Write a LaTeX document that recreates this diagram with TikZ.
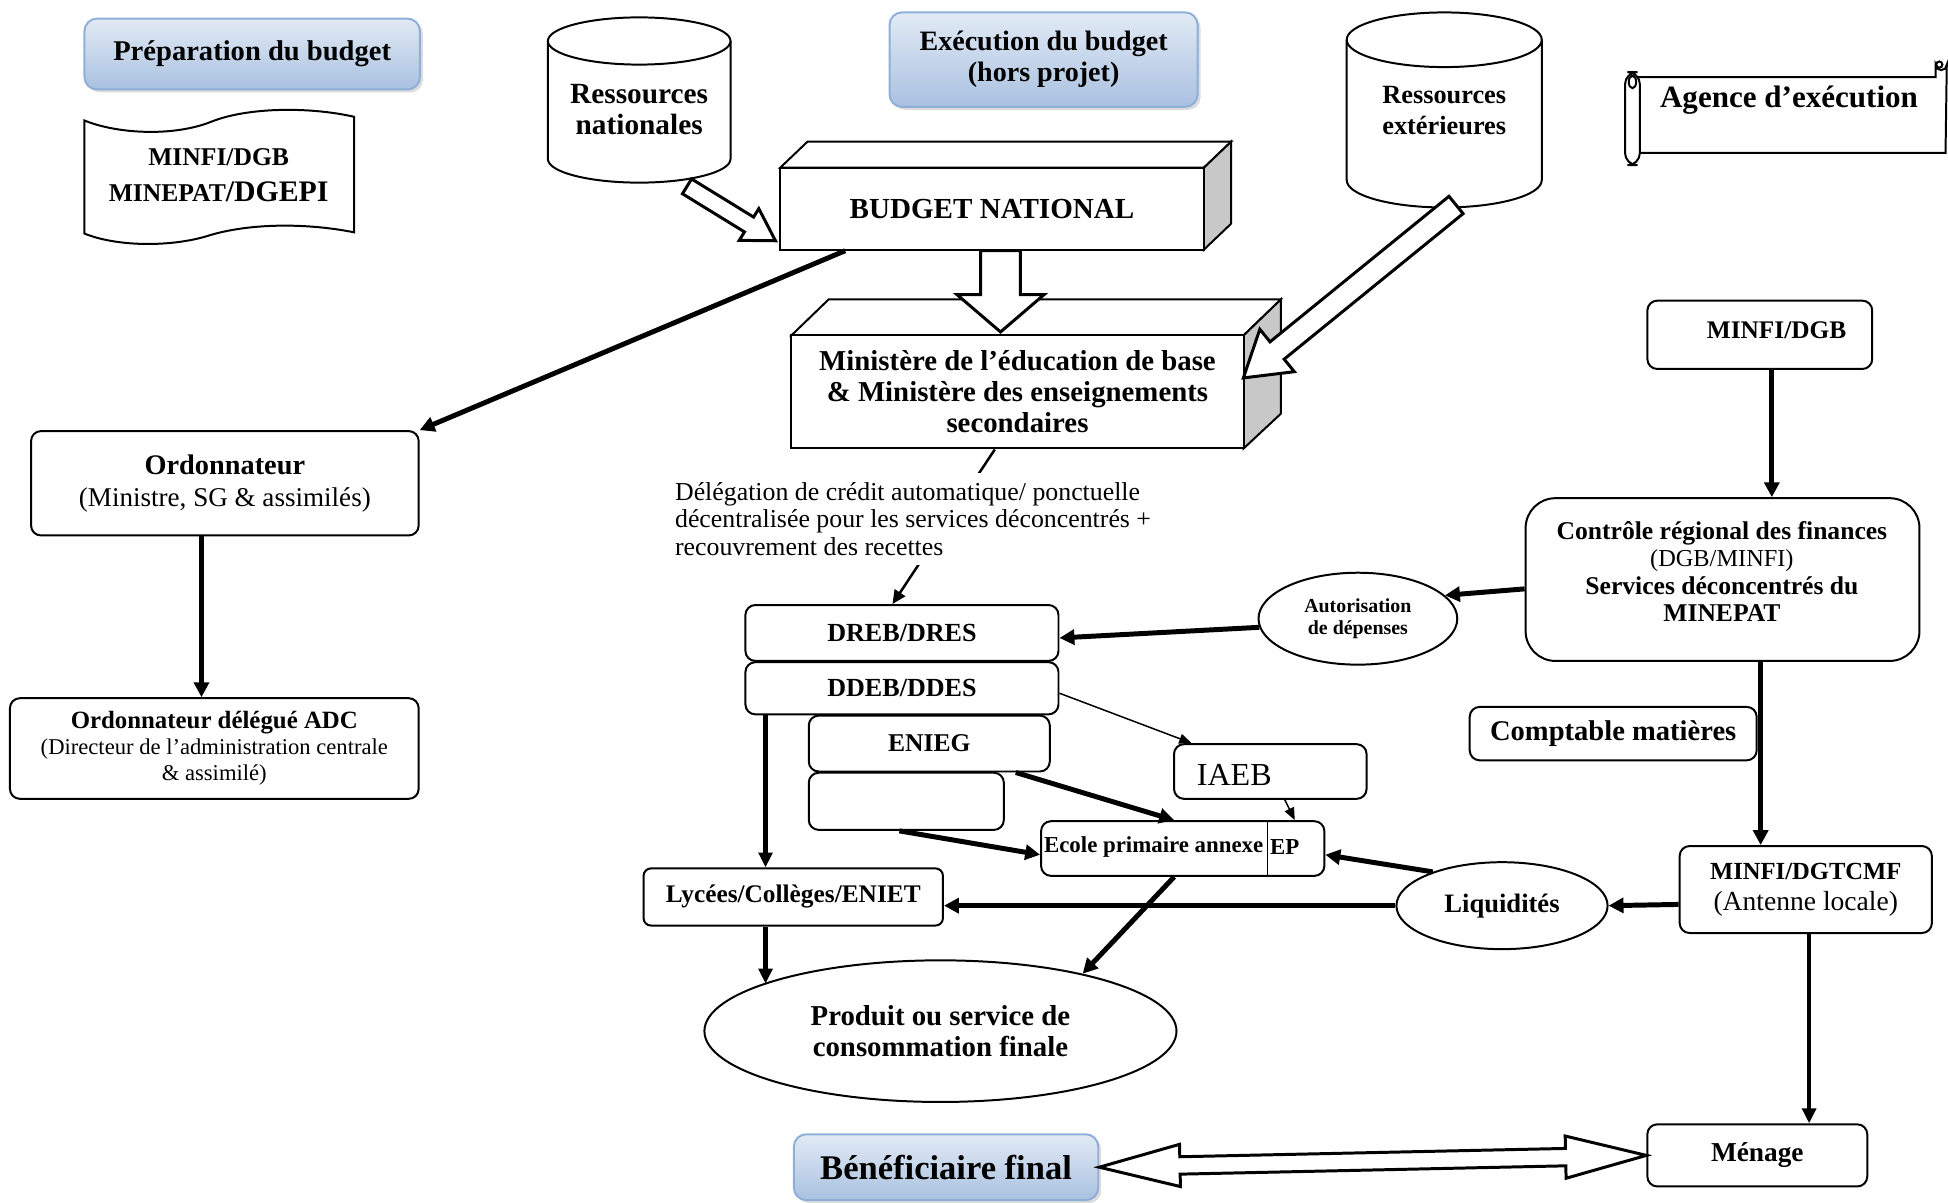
\documentclass[tikz,border=0pt]{standalone}
\usepackage{fontspec}
\setmainfont{Liberation Serif}
\usetikzlibrary{calc,shapes.geometric,arrows.meta,shadows}
\definecolor{bluetop}{HTML}{E2EAF5}
\definecolor{bluebot}{HTML}{A9C1E0}
\definecolor{blueedge}{HTML}{8FAFD8}
\definecolor{sidegray}{HTML}{C8C8C8}
\newcommand\fz[2]{\fontsize{#1pt}{#2pt}\selectfont}
\newcommand\mkbox[7]{%
  \pgfmathsetmacro\myW{(#4-#2)*0.5}%
  \pgfmathsetmacro\myH{(#5-#3)*0.5}%
  \node[#6, minimum width=\myW pt, minimum height=\myH pt] (#1) at ({(#2+#4)/2},{(#3+#5)/2}) {#7};}
\newcommand\mkell[7]{%
  \node[#6, minimum width=#4pt, minimum height=#5pt] (#1) at (#2,#3) {#7};}
\begin{document}
\begin{tikzpicture}[x=0.5pt,y=-0.5pt,
  box/.style={draw, line width=0.8pt, rounded corners=4pt, fill=white, inner sep=0pt, align=center},
  sq/.style={draw, line width=0.8pt, fill=white, inner sep=0pt, align=center},
  bluebox/.style={draw=blueedge, line width=0.8pt, rounded corners=5pt, top color=bluetop, bottom color=bluebot, inner sep=0pt, align=center, drop shadow={shadow xshift=1.2pt, shadow yshift=-1.2pt, fill=gray!55}},
  ell/.style={ellipse, draw, line width=0.8pt, fill=white, inner sep=0pt, align=center},
  shp/.style={draw, line width=0.8pt, fill=white},
  thk/.style={line width=2pt, -{Triangle[length=6pt,width=6pt]}},
  med/.style={line width=1.7pt, -{Triangle[length=6pt,width=5.5pt]}},
  thn/.style={line width=0.6pt, -{Triangle[length=5pt,width=4pt]}},
  blk/.style={draw, line width=1.2pt, fill=white, line join=miter}
]
\useasboundingbox (0,0) rectangle (1568,968);

% ---- top left
\mkbox{prep}{68}{15}{338}{72}{bluebox,font=\bfseries\fz{11.5}{13}}{Préparation du budget}
\draw[shp] (68,97) .. controls (95,108) and (140,110) .. (170,98) .. controls (200,86) and (250,86) .. (285,94)
  -- (285,187) .. controls (250,180) and (205,179) .. (170,189) .. controls (140,199) and (95,199) .. (68,188) -- cycle;
\node[align=center, inner sep=0pt, font=\bfseries\fz{10.3}{14.5}] (tp) at (176,141) {MINFI/DGB\\MINEPAT{\fz{12}{14}/DGEPI}};

% ---- cylinders
\draw[shp] (441,33) -- (441,128) arc[start angle=180, end angle=0, x radius=73.5, y radius=19] -- (588,33);
\draw[shp] (514.5,33) ellipse[x radius=73.5, y radius=19];
\node[align=center, inner sep=0pt, font=\bfseries\fz{11.8}{12.5}] (rn) at (514.5,88) {Ressources\\nationales};

\draw[shp] (1084,32) -- (1084,145) arc[start angle=180, end angle=0, x radius=78.5, y radius=22] -- (1241,32);
\draw[shp] (1162.5,32) ellipse[x radius=78.5, y radius=22];
\node[align=center, inner sep=0pt, font=\bfseries\fz{10.6}{12.5}] (re) at (1162.5,89) {Ressources\\extérieures};

\mkbox{exec}{716}{10}{964}{86}{bluebox,font=\bfseries\fz{11.3}{12.5}}{Exécution du budget\\(hors projet)}

% ---- scroll
\draw[shp] (1316,62) -- (1558,62) -- (1558,52) arc[start angle=180, end angle=0, radius=4.5] -- (1566,123) -- (1316,123);
\draw[line width=0.8pt] (1561,52) circle[radius=2.5];
\draw[shp, rounded corners=5pt] (1308,58) rectangle (1320,133);
\draw[line width=0.8pt] (1314,66) ellipse[x radius=3, y radius=5];
\node[inner sep=0pt, font=\bfseries\fz{12.5}{13}] (ag) at (1440,81) {Agence d’exécution};

% ---- 3D boxes
\draw[shp] (628,135) -- (650,114) -- (991,114) -- (969,135) -- cycle;
\draw[shp, fill=sidegray] (969,135) -- (991,114) -- (991,180) -- (969,201) -- cycle;
\mkbox{bn}{628}{135}{969}{201}{sq,font=\bfseries\fz{11.7}{13}}{BUDGET NATIONAL}

\draw[shp] (637,270) -- (667,241) -- (1031,241) -- (1001,270) -- cycle;
\draw[shp, fill=sidegray] (1001,270) -- (1031,241) -- (1031,333) -- (1001,361) -- cycle;
\mkbox{min}{637}{270}{1001}{361}{sq,font=\bfseries\fz{11.6}{12.5}}{Ministère de l’éducation de base\\\& Ministère des enseignements\\secondaires}

% ---- left
\mkbox{ord}{25}{347}{337}{431}{box,font=\fz{10.9}{13}}{\textbf{\fz{11.4}{13}Ordonnateur}\\(Ministre, SG \& assimilés)}
\mkbox{ordd}{8}{562}{337}{643}{box,font=\fz{9.1}{10.5}}{\textbf{\fz{10}{10.5}Ordonnateur délégué ADC}\\(Directeur de l’administration centrale\\\& assimilé)}

% ---- middle
\mkbox{dreb}{600}{487}{852}{532}{box,font=\bfseries\fz{10.5}{12}}{DREB/DRES}
\mkbox{ddeb}{600}{533}{852}{575}{box,font=\bfseries\fz{10.5}{12}}{DDEB/DDES}
\mkbox{enieg}{651}{576}{845}{621}{box,font=\bfseries\fz{10.3}{12}}{ENIEG}
\mkbox{emp}{651}{622}{808}{668}{box}{}
\mkbox{iaeb}{945}{599}{1100}{643}{box}{}
\node[anchor=west, inner sep=0pt, font=\fz{12.9}{14}] (iaebt) at (963,624) {IAEB};
\mkbox{ep}{838}{661}{1066}{705}{box}{}
\draw[line width=0.6pt] ($(ep.north west)+(183,0)$) -- ($(ep.south west)+(183,0)$);
\node[anchor=west, inner sep=0pt, font=\bfseries\fz{9.2}{10}] (ept) at (840,682) {Ecole primaire annexe};
\node[anchor=west, inner sep=0pt, font=\bfseries\fz{9.2}{10}] (ep2) at (1022,682) {EP};
\mkbox{lyc}{518}{699}{759}{745}{box,rounded corners=3pt,font=\bfseries\fz{10.2}{11}}{Lycées/Collèges/ENIET}
\mkell{prod}{757}{830}{190}{57}{ell,font=\bfseries\fz{11.6}{12.5}}{Produit ou service de\\consommation finale}
\mkbox{benef}{639}{913}{884}{966}{bluebox,font=\bfseries\fz{13.9}{15}}{Bénéficiaire final}

% ---- right
\mkbox{mdgb}{1326}{242}{1507}{297}{box}{}
\node[inner sep=0pt, font=\bfseries\fz{10.2}{12}] (mdgbt) at (1430,266) {MINFI/DGB};
\mkbox{crf}{1228}{401}{1545}{532}{box,rounded corners=12pt}{}
\node[align=center, inner sep=0pt, font=\bfseries\fz{10.3}{11}] (crft) at (1386,460) {Contrôle régional des finances\\{\mdseries\fz{9.8}{11}(DGB/MINFI)}\\Services déconcentrés du\\MINEPAT};
\mkell{aut}{1093}{498}{80}{37}{ell,font=\bfseries\fz{8}{9}}{Autorisation\\de dépenses}
\mkbox{cm}{1183}{569}{1414}{612}{box,font=\bfseries\fz{11.5}{12}}{Comptable matières}
\mkbox{dgt}{1352}{681}{1555}{751}{box,font=\fz{11.1}{12.5}}{\textbf{\fz{9.9}{12.5}MINFI/DGTCMF}\\(Antenne locale)}
\mkell{liq}{1209}{729}{85}{35}{ell,font=\bfseries\fz{10.7}{12}}{Liquidités}
\mkbox{men}{1326}{905}{1503}{955}{box,font=\bfseries\fz{11}{12}}{Ménage}

% ---- connectors
\coordinate (o1) at ($(ord.south west)!0.44!(ord.south east)$);
\coordinate (d1) at ($(ddeb.south west)+(17,0)$);
\coordinate (l1) at ($(lyc.south west)+(99,0)$);
\coordinate (m1) at ($(mdgb.south west)+(101,0)$);
\coordinate (c1) at ($(crf.south west)+(190,0)$);
\coordinate (g1) at ($(dgt.south west)+(105,0)$);

\draw[thk] ($(bn.south west)!0.155!(bn.south east)$) -- (ord.north east);
\draw[thk] (o1) -- (o1 |- ordd.north);
\draw[line width=1pt, -{Triangle[length=5.5pt,width=5pt]}] ($(min.south west)!0.45!(min.south east)$) -- ($(dreb.north west)!0.47!(dreb.north east)$);
\node[anchor=north west, fill=white, inner xsep=1pt, inner ysep=4pt, align=left, font=\fz{10.4}{11}] (del) at (541,380) {Délégation de crédit automatique/ ponctuelle\\décentralisée pour les services déconcentrés +\\recouvrement des recettes};
\draw[med] (d1) -- (d1 |- lyc.north);
\draw[med] (l1) -- (l1 |- prod.165);
\draw[thk] ($(ep.south west)!0.47!(ep.south east)$) -- (prod.22);
\draw[thk] ($(enieg.south west)!0.856!(enieg.south east)$) -- ($(ep.north west)!0.47!(ep.north east)$);
\draw[thk] ($(emp.south west)!0.465!(emp.south east)$) -- ([yshift=-2.5pt]ep.west);
\draw[thn] ([yshift=-2pt]ddeb.east) -- ($(iaeb.north west)+(15,0)$);
\draw[thn] ($(iaeb.south west)+(90,0)$) -- ($(ep.north west)+(205,0)$);
\draw[thk] (m1) -- (m1 |- crf.north);
\draw[thk] ([yshift=-3.75pt]crf.west) -- (aut.15);
\draw[thk] (aut.185) -- ([yshift=-2pt]dreb.east);
\draw[thk] (c1) -- (c1 |- dgt.north);
\draw[thk] ([yshift=-6pt]dgt.west) -- (liq.east);
\draw[thk] (liq.154) -- ([yshift=-2.5pt]ep.east);
\draw[thk] (liq.west) -- (liq.west -| lyc.east);
\draw[med] (g1) -- (g1 |- men.north);

% ---- block arrows
\coordinate (na1) at (553,150);
\coordinate (na2) at ([shift={(-3,-8)}]bn.south west);
\coordinate (nah) at ($(na2)!12.5pt!(na1)$);
\draw[blk] ($(na1)!3.5pt!90:(na2)$) -- ($(nah)!3.5pt!90:(na2)$) -- ($(nah)!7.5pt!90:(na2)$) -- (na2)
  -- ($(nah)!7.5pt!-90:(na2)$) -- ($(nah)!3.5pt!-90:(na2)$) -- ($(na1)!3.5pt!-90:(na2)$) -- cycle;

\coordinate (xa1) at (1172,165);
\coordinate (xa2) at ($(min.north east)+(-1,35)$);
\coordinate (xah) at ($(xa2)!17.5pt!(xa1)$);
\draw[blk] ($(xa1)!4.5pt!90:(xa2)$) -- ($(xah)!4.5pt!90:(xa2)$) -- ($(xah)!11pt!90:(xa2)$) -- (xa2)
  -- ($(xah)!11pt!-90:(xa2)$) -- ($(xah)!4.5pt!-90:(xa2)$) -- ($(xa1)!4.5pt!-90:(xa2)$) -- cycle;

\coordinate (da1) at ($(bn.south west)!0.52!(bn.south east)$);
\coordinate (da2) at ($(da1 |- min.north)+(0,-2)$);
\coordinate (dah) at ($(da2)!15pt!(da1)$);
\draw[blk] ($(da1)!8pt!90:(da2)$) -- ($(dah)!8pt!90:(da2)$) -- ($(dah)!17.5pt!90:(da2)$) -- (da2)
  -- ($(dah)!17.5pt!-90:(da2)$) -- ($(dah)!8pt!-90:(da2)$) -- ($(da1)!8pt!-90:(da2)$) -- cycle;

\coordinate (ba1) at (benef.east);
\coordinate (ba2) at (men.west);
\coordinate (bh1) at ($(ba1)!32.5pt!(ba2)$);
\coordinate (bh2) at ($(ba2)!32.5pt!(ba1)$);
\draw[blk] (ba1) -- ($(bh1)!8.5pt!90:(ba2)$) -- ($(bh1)!3.5pt!90:(ba2)$) -- ($(bh2)!3.5pt!90:(ba2)$) -- ($(bh2)!8.5pt!90:(ba2)$) -- (ba2)
  -- ($(bh2)!8.5pt!-90:(ba2)$) -- ($(bh2)!3.5pt!-90:(ba2)$) -- ($(bh1)!3.5pt!-90:(ba2)$) -- ($(bh1)!8.5pt!-90:(ba2)$) -- cycle;
\end{tikzpicture}
\end{document}
